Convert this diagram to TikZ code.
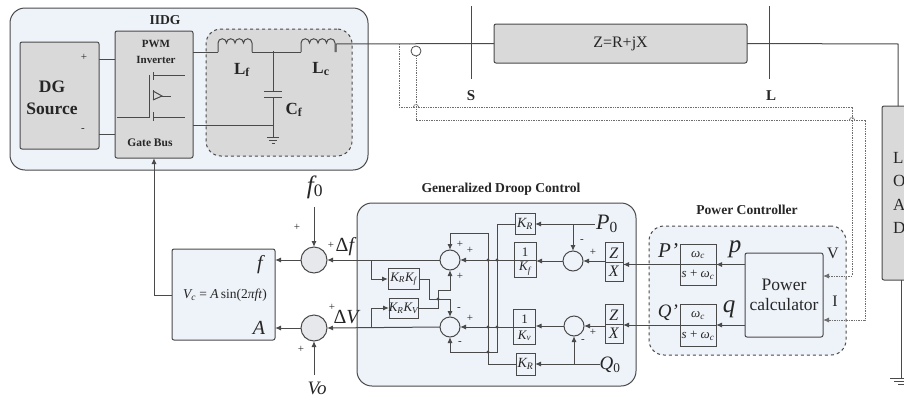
\documentclass[tikz,border=0pt]{standalone}
\usepackage{fontspec}
\setmainfont{Liberation Serif}
\usetikzlibrary{arrows.meta}
\usetikzlibrary{positioning}
\definecolor{wire}{HTML}{4A4A4A}
\definecolor{panel}{HTML}{EEF2F9}
\definecolor{blockgray}{HTML}{D9D9D9}
\newcommand\fsz[1]{\fontsize{#1}{#1}\selectfont}
\tikzset{
  wireline/.style={draw=wire,line width=1pt},
  arr/.style={wireline,-{Latex[length=6pt,width=5pt]}},
  sense/.style={draw=wire!80,line width=0.9pt,dash pattern=on 1pt off 0.7pt},
  sensearr/.style={sense,-{Latex[length=6pt,width=5pt]}},
  blk/.style={draw=wire,line width=1pt,rectangle,inner sep=0pt,outer sep=0pt},
  grayblk/.style={blk,rounded corners=2pt,fill=blockgray},
  frame/.style={blk,rounded corners=15pt,fill=panel},
  dashframe/.style={frame,dashed,line width=1pt},
  sumnode/.style={draw=wire,line width=1pt,circle,inner sep=0pt,outer sep=0pt},
  lbl/.style={inner sep=0pt,outer sep=0pt,text=black!85},
  sign/.style={lbl,font=\fsz{11}},
  title/.style={lbl,font=\fsz{13.6}\bfseries},
  dotnode/.style={circle,fill=wire,inner sep=0pt,minimum size=3.4pt}
}
\newcommand\fracbox[8]{
  \node[blk,minimum width=#4,minimum height=#5] (#1) at (#2,#3) {};
  \draw[wireline] (#1.west) -- (#1.east);
  \node[lbl,font=\fsz{#8}] (#1top) at ([yshift=#5*0.23pt]#1.center) {#6};
  \node[lbl,font=\fsz{#8}] (#1bot) at ([yshift=-#5*0.25pt]#1.center) {#7};
}
\newcommand\coil[1]{
  \draw[wireline] (#1) -- ++(0,-9)
    \foreach \k in {1,...,4} { arc[start angle=180,end angle=360,radius=4.25] }
    -- ++(0,9);
}
\newcommand\earth[2]{
  \draw[wireline] ([xshift=-#2pt]#1) -- ([xshift=#2pt]#1);
  \draw[wireline] ([xshift=-0.6*#2pt,yshift=-3pt]#1) -- ([xshift=0.6*#2pt,yshift=-3pt]#1);
  \draw[wireline] ([xshift=-0.25*#2pt,yshift=-6pt]#1) -- ([xshift=0.25*#2pt,yshift=-6pt]#1);
}

\begin{document}
\begin{tikzpicture}[x=1pt,y=-1pt]
  \clip (0,0) rectangle (904,399);
  \path[use as bounding box] (0,0) rectangle (904,399);

  \node[frame,minimum width=358,minimum height=162] (iidg) at (189,89) {};
  \node[title] (iidgname) at (165,20) {IIDG};
  \node[grayblk,minimum width=79,minimum height=107] (dg) at (59.5,95.5) {};
  \node[grayblk,minimum width=78,minimum height=127] (pwm) at (154,94.5) {};
  \node[dashframe,fill=blockgray,minimum width=146,minimum height=127] (filt) at (279,92.5) {};
  \node[lbl,font=\fsz{17.5}\bfseries,align=center] (dgname) at (52,98) {DG\\[5pt]Source};
  \node[sign] (dgplus) at (84,57) {+};
  \node[sign] (dgminus) at (83,130) {-};
  \node[lbl,font=\fsz{11}\bfseries,align=center] (pwmname) at (156,52) {PWM\\[5pt]Inverter};
  \node[lbl,font=\fsz{11.5}\bfseries] (gatebus) at (150,143) {Gate Bus};
  \node[lbl,font=\fsz{17}\bfseries] (lfname) at (242,70) {L\textsubscript{f}};
  \node[lbl,font=\fsz{17}\bfseries] (lcname) at (321,69) {L\textsubscript{c}};
  \node[lbl,font=\fsz{17}\bfseries] (cfname) at (294,110) {C\textsubscript{f}};

  \coordinate (dgp) at (dg.east |- 0,59);
  \coordinate (dgm) at (dg.east |- 0,134);
  \draw[wireline] (dgp) -- (dgp -| pwm.west);
  \draw[wireline] (dgm) -- (dgm -| pwm.west);

  \coordinate (lfin) at (218,52);
  \coordinate (lfout) at (252,52);
  \coordinate (lcin) at (301,52);
  \coordinate (lcout) at (336,52);
  \coordinate (capjoin) at (273,51);
  \coordinate (capa) at (273,91);
  \coordinate (capb) at (273,97);
  \coordinate (gnda) at (273,125);
  \coordinate (gndb) at (273,137);
  \coil{lfin}
  \coil{lcin}
  \draw[wireline] (pwm.east |- lfin) -- (lfin);
  \draw[wireline] (lfout) -- (lcin);
  \draw[wireline] (capjoin) -- (capa);
  \draw[wireline] ([xshift=-9pt]capa) -- ([xshift=9pt]capa);
  \draw[wireline] ([xshift=-9pt]capb) -- ([xshift=9pt]capb);
  \draw[wireline] (capb) -- (gndb);
  \draw[wireline] (pwm.east |- gnda) -- (gnda);
  \earth{gndb}{6}

  % switch
  \coordinate (gatea) at (149,75);
  \coordinate (gateb) at (149,117);
  \draw[wireline] (117,117) -- (gateb) -- (gatea);
  \draw[wireline] (153,72) -- (153,80);
  \draw[wireline] (153,90) -- (153,100);
  \draw[wireline] (153,112) -- (153,121);
  \draw[wireline] (153,75) -- (185,75);
  \draw[wireline] (153,117) -- (185,117);
  \draw[wireline] (153,91) -- (162,96) -- (153,100);
  \draw[wireline] (160,96) -- (171,96);

  \node[grayblk,minimum width=253,minimum height=39] (line) at (620.5,43.5) {};
  \node[lbl,font=\fsz{16}] (linename) at (line.center) {Z=R+jX};
  \node[grayblk,minimum width=30,minimum height=174] (load) at (897,193) {};
  \foreach \ch/\ypos [count=\i] in {L/158,O/181,A/205,D/228} {
    \node[lbl,font=\fsz{17},anchor=west] (load\i) at (893,\ypos) {\ch};
  }
  \node[lbl,font=\fsz{15}\bfseries] (busS) at (471,96) {S};
  \node[lbl,font=\fsz{15}\bfseries] (busL) at (771,96) {L};
  \draw[wireline] (471,6) -- (471,79);
  \draw[wireline] (769,6) -- (769,79);

  \coordinate (pcc) at (399,44);
  \coordinate (loadtop) at (898,44);
  \draw[wireline] (lcout) -- (336,44) -- (line.west);
  \draw[wireline] (line.east) -- (loadtop) -- (loadtop |- load.north);
  \coordinate (loadgnd) at (901,378);
  \draw[wireline] (loadgnd |- load.south) -- (loadgnd);
  \earth{loadgnd}{11}

  \node[frame,minimum width=279,minimum height=183] (droop) at (496.5,294.5) {};
  \node[title] (droopname) at (501,189) {Generalized Droop Control};
  \node[dashframe,minimum width=197,minimum height=129] (power) at (747.5,290.5) {};
  \node[title] (powername) at (747,210) {Power Controller};
  \node[blk,fill=panel,rounded corners=2pt,minimum width=103,minimum height=91] (vc) at (223.5,294.5) {};
  \node[blk,rounded corners=2pt,fill=panel,minimum width=78,minimum height=84] (calc) at (784,295) {};
  \node[lbl,font=\fsz{17.5},align=center] (calcname) at (calc.center) {Power\\[3pt]calculator};

  \node[lbl,font=\fsz{20}\itshape] (vcf) at (260,265) {f};
  \node[lbl,font=\fsz{20}\itshape] (vcA) at (259,328) {A};
  \node[lbl,font=\fsz{13.5}] (vcformula) at (225,295) {\textit{V\textsubscript{c}} = \textit{A}\,sin(2\textit{πft})};

  \node[sumnode,fill=panel!60!blockgray,minimum size=26] (sumf) at (314,260) {};
  \node[sumnode,fill=panel!60!blockgray,minimum size=26] (sumv) at (314,328) {};
  \node[sumnode,minimum size=20] (dsumf) at (450,260) {};
  \node[sumnode,minimum size=20] (dsumv) at (450,327) {};
  \node[sumnode,minimum size=20] (psum) at (573,261) {};
  \node[sumnode,minimum size=20] (qsum) at (574,326) {};

  \node[lbl,font=\fsz{25}\itshape] (f0) at (315,187) {f\textsubscript{\upshape 0}};
  \node[lbl,font=\fsz{19}\itshape] (vo) at (317,388) {Vo};
  \node[lbl,font=\fsz{20}] (df) at (346,247) {Δ\textit{f}};
  \node[lbl,font=\fsz{20}] (dv) at (347,317) {Δ\textit{V}};
  \node[lbl,font=\fsz{22}\itshape] (p0) at (607,224) {P\textsubscript{\upshape 0}};
  \node[lbl,font=\fsz{19}\itshape] (q0) at (610,365) {Q\textsubscript{\upshape 0}};

  \node[blk,minimum width=20,minimum height=21] (krp) at (525,224) {};
  \node[blk,minimum width=19,minimum height=22] (krq) at (525.5,364) {};
  \node[lbl,font=\fsz{14}\itshape] (krpname) at (krp.center) {K\textsubscript{R}};
  \node[lbl,font=\fsz{14}\itshape] (krqname) at (krq.center) {K\textsubscript{R}};
  \node[blk,minimum width=31,minimum height=21] (kkf) at (403.5,279) {};
  \node[blk,minimum width=29,minimum height=20] (kkv) at (403.5,308) {};
  \node[lbl,font=\fsz{13}\itshape] (kkfname) at (kkf.center) {K\textsubscript{R}K\textsubscript{f}};
  \node[lbl,font=\fsz{13}\itshape] (kkvname) at (kkv.center) {K\textsubscript{R}K\textsubscript{V}};

  \fracbox{onekf}{525}{260}{22}{35}{1}{\textit{K\textsubscript{f}}}{13}
  \fracbox{onekv}{524.5}{327}{22}{35}{1}{\textit{K\textsubscript{v}}}{13}
  \fracbox{zxp}{614}{262}{18}{39}{\textit{Z}}{\textit{X}}{16}
  \fracbox{zxq}{614}{324}{18}{39}{\textit{Z}}{\textit{X}}{16}
  \fracbox{lpp}{698}{264.5}{36}{41}{\textit{ω\textsubscript{c}}}{\textit{s} + \textit{ω\textsubscript{c}}}{13}
  \fracbox{lpq}{698}{325}{36}{42}{\textit{ω\textsubscript{c}}}{\textit{s} + \textit{ω\textsubscript{c}}}{13}

  \node[lbl,font=\fsz{21}\itshape,anchor=east] (pdash) at (678,251) {P'};
  \node[lbl,font=\fsz{19}\itshape,anchor=east] (qdash) at (678,313) {Q'};
  \node[lbl,font=\fsz{25}\itshape] (pout) at (735,249) {p};
  \node[lbl,font=\fsz{25}\itshape] (qout) at (729,309) {q};
  \node[lbl,font=\fsz{16}] (vin) at (833,253) {V};
  \node[lbl,font=\fsz{16}] (iin) at (835,301) {I};

  \foreach \x/\y/\s [count=\i] in {297/227/+,331/245/+,332/307/+,301/349/+,
    460/244/+,470/250/+,460/276/+,459/309/-,470/318/+,460/343/-,
    582/241/-,593/252/+,593/332/+,583/341/-} {
    \node[sign] (sign\i) at (\x,\y) {\s};
  }

  \coordinate (gatefeed) at (154,295);
  \draw[arr] (vc.west |- gatefeed) -- (gatefeed) -- (gatefeed |- pwm.south);
  \draw[arr] (sumf.west) -- (sumf.west -| vc.east);
  \draw[arr] (sumv.west) -- (sumv.west -| vc.east);
  \draw[arr] (314,207) -- (sumf.north);
  \draw[arr] (314,375) -- (sumv.south);
  \draw[arr] (dsumf.west) -- (sumf.east);
  \draw[arr] (dsumv.west) -- (sumv.east);

  \coordinate (brf) at (371,260);
  \coordinate (brv) at (371,328);
  \coordinate (jogf) at (429,299);
  \coordinate (jogv) at (438,290);
  \coordinate (topj) at (488,233);
  \coordinate (botj) at (497,352);
  \coordinate (p0tap) at (573,224);
  \coordinate (q0tap) at (574,364);
  \draw[arr] (brf) |- (kkf.west);
  \draw[arr] (brv) |- (kkv.west);
  \draw[arr] (kkf.east) -| (jogf) -| (dsumv.north);
  \draw[arr] (kkv.east) -| (jogv) -| (dsumf.south);
  \draw[arr] (krp.west) -| (botj) -| (dsumv.south);
  \draw[arr] (krq.west) -| (topj) -| (dsumf.north);
  \draw[arr] (onekf.west) -- (dsumf.east);
  \draw[arr] (onekv.west) -- (dsumv.east);
  \draw[arr] (psum.west) -- (psum.west -| onekf.east);
  \draw[arr] (qsum.west) -- (qsum.west -| onekv.east);
  \draw[arr] (zxp.west |- psum) -- (psum.east);
  \draw[arr] (zxq.west |- qsum) -- (qsum.east);
  \draw[arr] (595,224) -- (krp.east);
  \draw[arr] (600,364) -- (krq.east);
  \draw[arr] (p0tap) -- (psum.north);
  \draw[arr] (q0tap) -- (qsum.south);
  \draw[arr] (lpp.west) -- (zxp.east |- lpp.west);
  \draw[arr] (lpq.west) -- (zxq.east |- lpq.west);
  \draw[arr] (calc.west |- lpp) -- (lpp.east);
  \draw[arr] (calc.west |- lpq) -- (lpq.east);

  \foreach \x/\y [count=\i] in {488/260,497/260,488/327,497/327,488/352,438/299} {
    \node[dotnode] (dot\i) at (\x,\y) {};
  }

  \node[draw=wire,line width=0.8pt,circle,fill=white,inner sep=0pt,minimum size=10] (ctsense) at (416,51) {};
  \coordinate (vturn) at (852,107);
  \coordinate (iturn) at (865,120);
  \coordinate (vend) at (852,276);
  \coordinate (iend) at (865,320);
  \draw[sensearr] (pcc) |- (vturn) -- (vend) -- (vend -| calc.east);
  \draw[sensearr] (ctsense.south) |- (iturn) -- (iend) -- (iend -| calc.east);
  \draw[sense] (413.5,107) arc[start angle=180,end angle=360,radius=2.5];
  \draw[sense] (849.5,120) arc[start angle=180,end angle=360,radius=2.5];
\end{tikzpicture}
\end{document}
